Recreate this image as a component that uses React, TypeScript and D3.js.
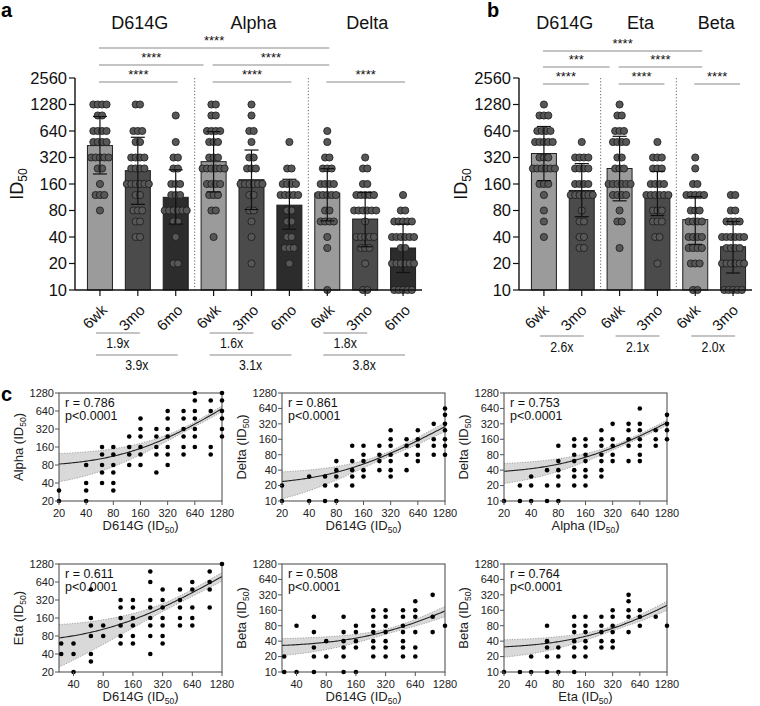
import React from "react";
import * as d3 from "d3";

const FONT = "'Liberation Sans', Arial, Helvetica, sans-serif";

// ---------- bar panels ----------
const barTicks = [10, 20, 40, 80, 160, 320, 640, 1280, 2560];
const timepoints = ["6wk", "3mo", "6mo"];
const tpColors: Record<string, string> = { "6wk": "#9b9b9b", "3mo": "#4b4b4b", "6mo": "#2c2c2c" };

const aVariants = ["D614G", "Alpha", "Delta"];
const aGeoMean = [437, 227, 113, 287, 179, 92, 126, 64, 30];
const aErrHigh = [934, 543, 232, 630, 389, 181, 239, 128, 56];
const aErrLow = [208, 94, 56, 130, 82, 49, 61, 31, 15.8];
const aDots: [number, number][][] = [
  [[1280, 4], [960, 2], [640, 4], [480, 4], [320, 5], [240, 2], [160, 1], [120, 3], [80, 1]],
  [[1280, 2], [640, 3], [480, 2], [320, 4], [240, 4], [160, 6], [120, 2], [80, 3], [60, 2], [40, 2]],
  [[960, 1], [480, 1], [320, 2], [240, 2], [160, 3], [120, 3], [80, 6], [60, 2], [40, 1], [20, 2]],
  [[1280, 2], [960, 2], [640, 4], [480, 3], [320, 3], [240, 6], [160, 4], [120, 3], [80, 2], [40, 1]],
  [[1280, 1], [960, 1], [640, 2], [480, 1], [320, 2], [240, 3], [160, 6], [120, 2], [80, 2], [60, 1], [40, 1], [20, 1]],
  [[480, 1], [240, 2], [160, 4], [120, 5], [80, 2], [60, 2], [40, 2], [30, 3], [20, 1]],
  [[640, 1], [480, 1], [320, 2], [240, 3], [160, 4], [120, 5], [80, 2], [60, 4], [40, 1], [30, 1], [10, 1]],
  [[320, 1], [240, 2], [160, 2], [120, 5], [80, 6], [60, 1], [40, 5], [30, 3], [20, 1], [10, 2]],
  [[120, 1], [80, 2], [60, 5], [40, 6], [30, 2], [20, 6], [10, 5]],
];
const aBrackets: [number, number, number, string][] = [
  [0, 6, 0, "****"], [0, 3, 1, "****"], [3, 6, 1, "****"],
  [0, 2, 2, "****"], [3, 5, 2, "****"], [6, 8, 2, "****"],
];
const aFolds: [number, number, number, string][] = [
  [0, 1, 0, "1.9x"], [0, 2, 1, "3.9x"], [3, 4, 0, "1.6x"], [3, 5, 1, "3.1x"], [6, 7, 0, "1.8x"], [6, 8, 1, "3.8x"],
];

const bVariants = ["D614G", "Eta", "Beta"];
const bGeoMean = [355, 135, 240, 128, 63, 31];
const bErrHigh = [720, 273, 557, 222, 115, 60];
const bErrLow = [175, 68, 103, 70, 33, 15.6];
const bDots: [number, number][][] = [
  [[1280, 1], [960, 3], [640, 4], [480, 5], [320, 3], [240, 6], [160, 3], [120, 1], [80, 1], [60, 1], [40, 1]],
  [[480, 1], [320, 4], [240, 4], [160, 4], [120, 6], [80, 1], [60, 2], [40, 2], [30, 2]],
  [[1280, 1], [960, 2], [640, 3], [480, 4], [320, 2], [240, 3], [160, 6], [120, 4], [80, 1], [60, 2], [30, 1]],
  [[480, 1], [320, 3], [240, 3], [160, 4], [120, 6], [80, 3], [60, 3], [40, 2], [20, 1]],
  [[320, 1], [240, 1], [160, 2], [120, 5], [80, 3], [60, 4], [40, 4], [30, 4], [20, 3], [10, 2]],
  [[120, 2], [80, 2], [60, 4], [40, 6], [30, 4], [20, 6], [10, 5]],
];
const bBrackets: [number, number, number, string][] = [
  [0, 4, 0, "****"], [0, 2, 1, "***"], [2, 4, 1, "****"],
  [0, 1, 2, "****"], [2, 3, 2, "****"], [4, 5, 2, "****"],
];
const bFolds: [number, number, number, string][] = [
  [0, 1, 0, "2.6x"], [2, 3, 0, "2.1x"], [4, 5, 0, "2.0x"],
];

// ---------- scatter panels ----------
const sc1Points = [
  [20, 30], [20, 20], [40, 80], [40, 40], [40, 30], [40, 20],
  [60, 160], [60, 120], [60, 80], [60, 60], [60, 40],
  [80, 160], [80, 120], [80, 80], [80, 60], [80, 40], [80, 30],
  [120, 240], [120, 160], [120, 120], [120, 80],
  [160, 480], [160, 320], [160, 240], [160, 160], [160, 120], [160, 80],
  [240, 320], [240, 240], [240, 160], [240, 120], [240, 60],
  [320, 640], [320, 480], [320, 320], [320, 240], [320, 160], [320, 120], [320, 80],
  [480, 640], [480, 480], [480, 320], [480, 240], [480, 160], [480, 120],
  [640, 1280], [640, 960], [640, 640], [640, 480], [640, 320], [640, 240], [640, 160],
  [960, 960], [960, 640], [960, 160], [960, 120],
  [1280, 1280], [1280, 960], [1280, 640], [1280, 480], [1280, 320], [1280, 240],
];
const sc2Points = [
  [20, 20], [20, 10], [40, 30], [40, 10], [60, 30], [60, 20], [60, 10],
  [80, 60], [80, 40], [80, 30], [80, 20], [80, 10],
  [120, 120], [120, 60], [120, 40], [120, 30], [120, 20],
  [160, 120], [160, 80], [160, 60], [160, 40], [160, 30],
  [240, 120], [240, 80], [240, 60], [240, 40],
  [320, 240], [320, 160], [320, 120], [320, 80], [320, 60], [320, 40], [320, 30],
  [480, 160], [480, 120], [480, 80], [480, 40],
  [640, 240], [640, 160], [640, 120], [640, 80], [640, 60],
  [960, 320], [960, 160], [960, 120], [960, 80],
  [1280, 640], [1280, 480], [1280, 320], [1280, 240], [1280, 160], [1280, 120], [1280, 80],
];
const sc3Points = [
  [20, 10], [30, 20], [30, 10], [40, 30], [40, 20], [40, 10], [60, 40], [60, 20], [60, 10],
  [80, 120], [80, 60], [80, 40], [80, 30], [80, 20], [80, 10],
  [120, 160], [120, 120], [120, 80], [120, 60], [120, 40], [120, 30], [120, 20],
  [160, 160], [160, 120], [160, 80], [160, 60], [160, 40], [160, 30], [160, 20],
  [240, 240], [240, 160], [240, 120], [240, 80], [240, 60], [240, 40], [240, 30],
  [320, 320], [320, 160], [320, 120], [320, 80], [320, 60],
  [480, 320], [480, 240], [480, 160], [480, 120], [480, 60],
  [640, 640], [640, 320], [640, 240], [640, 160], [640, 120], [640, 80], [640, 60],
  [960, 240], [960, 160], [960, 120],
  [1280, 480], [1280, 320], [1280, 240], [1280, 160],
];
const sc4Points = [
  [30, 60], [30, 40], [40, 60], [40, 40], [40, 20],
  [60, 480], [60, 160], [60, 120], [60, 80], [60, 40], [60, 30],
  [80, 120], [80, 80],
  [120, 320], [120, 240], [120, 160], [120, 120], [120, 80], [120, 60],
  [160, 320], [160, 240], [160, 160], [160, 120], [160, 80], [160, 60],
  [240, 960], [240, 640], [240, 320], [240, 240], [240, 160], [240, 120], [240, 80], [240, 40],
  [320, 480], [320, 320], [320, 240], [320, 160], [320, 120], [320, 80], [320, 60],
  [480, 480], [480, 320], [480, 240], [480, 160], [480, 120],
  [640, 640], [640, 480], [640, 240], [640, 160], [640, 120],
  [960, 960], [960, 640], [960, 480], [960, 240],
  [1280, 1280],
];
const sc5Points = [
  [30, 20], [30, 10], [40, 80], [40, 10],
  [60, 120], [60, 60], [60, 30], [60, 20], [60, 10],
  [80, 40], [80, 20],
  [120, 120], [120, 60], [120, 40], [120, 30], [120, 20], [120, 10],
  [160, 80], [160, 60], [160, 40], [160, 30], [160, 10],
  [240, 160], [240, 120], [240, 80], [240, 60], [240, 40], [240, 30], [240, 20],
  [320, 160], [320, 120], [320, 80], [320, 60], [320, 40], [320, 30], [320, 20],
  [480, 160], [480, 120], [480, 80], [480, 60], [480, 40], [480, 30], [480, 20],
  [640, 240], [640, 160], [640, 120], [640, 60], [640, 30], [640, 20],
  [960, 320], [960, 120], [960, 60],
  [1280, 80],
];
const sc6Points = [
  [20, 10], [30, 10], [40, 20], [40, 10],
  [60, 80], [60, 40], [60, 30], [60, 20], [60, 10],
  [80, 30], [80, 20], [80, 10],
  [120, 120], [120, 80], [120, 60], [120, 40], [120, 30], [120, 20], [120, 10],
  [160, 120], [160, 80], [160, 60], [160, 40], [160, 30], [160, 20],
  [240, 120], [240, 80], [240, 60], [240, 40], [240, 30],
  [320, 160], [320, 120], [320, 80], [320, 60], [320, 40], [320, 30],
  [480, 320], [480, 240], [480, 160], [480, 120], [480, 60],
  [640, 160], [640, 120], [640, 80],
  [960, 120],
  [1280, 80],
];
const scatterPoints = [sc1Points, sc2Points, sc3Points, sc4Points, sc5Points, sc6Points];
// linear fit y = a + b*x
const scatterFits = [[73.2, 0.49], [19.9, 0.2056], [33.2, 0.239], [57.8, 0.574], [30.2, 0.0975], [28.3, 0.134]];
// 95% band half-width (linear units) at left end, narrowest, right end
const scatterCI = [[41, 26, 80], [13, 8, 55], [16, 11, 40], [50, 36, 130], [12, 7, 35], [11.5, 7, 40]];
const scatterR = ["0.786", "0.861", "0.753", "0.611", "0.508", "0.764"];
const scatterXNames = ["D614G", "D614G", "Alpha", "D614G", "D614G", "Eta"];
const scatterYNames = ["Alpha", "Delta", "Delta", "Eta", "Beta", "Beta"];
const scatterXDomains = [[20, 1280], [20, 1280], [20, 1280], [28.5, 1280], [28.5, 1280], [20, 1280]];
const scatterYDomains = [[20, 1280], [10, 1280], [10, 1280], [20, 1280], [10, 1280], [10, 1280]];
const ticks10 = [10, 20, 40, 80, 160, 320, 640, 1280];
const ticks20 = [20, 40, 80, 160, 320, 640, 1280];
const ticks40 = [40, 80, 160, 320, 640, 1280];

// ---------- components ----------
type BarProps = {
  variants: string[]; tps: string[]; geo: number[]; hi: number[]; lo: number[];
  dots: [number, number][][]; brackets: [number, number, number, string][];
  folds: [number, number, number, string][]; axisX: number; rangeEnd: number;
  bracketY: number[]; foldY: number[]; foldTextY: number[]; labelDx: number;
  ext: number;
};

function BarPanel(p: BarProps) {
  const cats = p.variants.flatMap((v) => p.tps.map((t) => v + "|" + t));
  const x = d3.scaleBand().domain(cats).range([p.axisX + 6, p.rangeEnd]).paddingInner(0.34).paddingOuter(0.17);
  const y = d3.scaleLog().domain([10, 2560]).range([290, 78]);
  const cx = (i: number) => (x(cats[i]) as number) + x.bandwidth() / 2;
  const bw = x.bandwidth();
  const y0 = y(10);
  const nT = p.tps.length;
  return (
    <g>
      {p.variants.map((v, gi) => (
        <text key={v} x={(cx(gi * nT) + cx(gi * nT + nT - 1)) / 2 + 2} y={28.5} fontSize={18} textAnchor="middle" fill="#111">{v}</text>
      ))}
      {p.variants.slice(1).map((v, gi) => {
        const xs = (cx((gi + 1) * nT - 1) + cx((gi + 1) * nT)) / 2;
        return <line key={v} x1={xs} x2={xs} y1={y(2560)} y2={y0} stroke="#555" strokeWidth={0.9} strokeDasharray="1.2,2" />;
      })}
      {cats.map((c, i) => {
        const tp = p.tps[i % nT];
        const xc = cx(i);
        return (
          <g key={c}>
            <rect x={x(c)} y={y(p.geo[i])} width={bw} height={y0 - y(p.geo[i])} fill={tpColors[tp]} stroke="#1e1e1e" strokeWidth={1} />
            {p.dots[i].flatMap(([v, n]) =>
              d3.range(n).map((k) => (
                <circle key={v + "-" + k} cx={xc + (k - (n - 1) / 2) * 4.4} cy={y(v)} r={3.6} fill="#575757" stroke="#1a1a1a" strokeWidth={0.8} />
              ))
            )}
            <line x1={xc} x2={xc} y1={y(p.lo[i])} y2={y(p.hi[i])} stroke="#111" strokeWidth={1.2} />
            <line x1={xc - 7} x2={xc + 7} y1={y(p.hi[i])} y2={y(p.hi[i])} stroke="#111" strokeWidth={1.2} />
            <line x1={xc - 7} x2={xc + 7} y1={y(p.lo[i])} y2={y(p.lo[i])} stroke="#111" strokeWidth={1.2} />
            <line x1={xc} x2={xc} y1={y0} y2={y0 + 6} stroke="#111" strokeWidth={1.2} />
            <text transform={`translate(${xc + p.labelDx},311) rotate(-45)`} textAnchor="end" fontSize={15} fill="#111">{tp}</text>
          </g>
        );
      })}
      <line x1={p.axisX} x2={p.axisX} y1={y(2560)} y2={y0} stroke="#111" strokeWidth={1.4} />
      <line x1={p.axisX} x2={p.rangeEnd} y1={y0} y2={y0} stroke="#111" strokeWidth={1.4} />
      {barTicks.map((t) => (
        <g key={t}>
          <line x1={p.axisX - 6} x2={p.axisX} y1={y(t)} y2={y(t)} stroke="#111" strokeWidth={1.2} />
          <text x={p.axisX - 8} y={y(t)} dy="0.36em" textAnchor="end" fontSize={16.5} fill="#111">{t}</text>
        </g>
      ))}
      {p.brackets.map(([a, b, lvl, s], i) => {
        const trimmed = p.brackets.some(([a2, , l2], j) => j !== i && l2 === lvl && a2 === b);
        const x1 = cx(a) - 1;
        const x2 = trimmed ? cx(b) - 10 : cx(b) + p.ext;
        return (
          <g key={i}>
            <line x1={x1} x2={x2} y1={p.bracketY[lvl]} y2={p.bracketY[lvl]} stroke="#8a8a8a" strokeWidth={1.1} />
            <text x={(x1 + x2) / 2} y={p.bracketY[lvl] - 3} textAnchor="middle" fontSize={13} fill="#111">{s}</text>
          </g>
        );
      })}
      {p.folds.map(([a, b, lvl, s], i) => {
        const x1 = cx(a) - 4;
        const x2 = cx(b) + 2;
        return (
          <g key={i}>
            <line x1={x1} x2={x2} y1={p.foldY[lvl]} y2={p.foldY[lvl]} stroke="#8a8a8a" strokeWidth={1.1} />
            <text transform={`translate(${(x1 + x2) / 2},${p.foldTextY[lvl]}) scale(0.82,1)`} textAnchor="middle" fontSize={15} fill="#111">{s}</text>
          </g>
        );
      })}
    </g>
  );
}

type ScProps = { idx: number; left: number; top: number };
function Scatter({ idx, left, top }: ScProps) {
  const W = 163, H = 108;
  const xd = scatterXDomains[idx], yd = scatterYDomains[idx];
  const x = d3.scaleLog().domain(xd).range([left, left + W]);
  const y = d3.scaleLog().domain(yd).range([top + H, top]);
  const pts = scatterPoints[idx];
  const [a, b] = scatterFits[idx];
  const [hL, hMin, hR] = scatterCI[idx];
  const rho = Math.sqrt((hR * hR - hMin * hMin) / (hL * hL - hMin * hMin));
  const xc = (xd[1] + rho * xd[0]) / (1 + rho);
  const B = (hL * hL - hMin * hMin) / ((xc - xd[0]) ** 2);
  const half = (v: number) => Math.sqrt(hMin * hMin + B * (v - xc) ** 2);
  const fit = (v: number) => a + b * v;
  const xs = d3.range(0, 121).map((i) => xd[0] * Math.pow(xd[1] / xd[0], i / 120));
  const yClamp = (v: number) => y(Math.max(v, yd[0] / 4));
  const upper = d3.line<number>().x((v) => x(v)).y((v) => yClamp(fit(v) + half(v)));
  const lower = d3.line<number>().x((v) => x(v)).y((v) => yClamp(fit(v) - half(v)));
  const area = d3.area<number>().x((v) => x(v)).y0((v) => yClamp(fit(v) - half(v))).y1((v) => yClamp(fit(v) + half(v)));
  const mid = d3.line<number>().x((v) => x(v)).y((v) => yClamp(fit(v)));
  const clipId = "clip" + idx;
  const xTicks = xd[0] < 25 ? ticks20 : ticks40;
  const yTicks = yd[0] < 15 ? ticks10 : ticks20;
  return (
    <g>
      <defs>
        <clipPath id={clipId}><rect x={left} y={top} width={W} height={H} /></clipPath>
      </defs>
      <g clipPath={`url(#${clipId})`}>
        <path d={area(xs) || ""} fill="#d9d9d9" />
        <path d={upper(xs) || ""} fill="none" stroke="#8c8c8c" strokeWidth={0.8} strokeDasharray="1.2,1.4" />
        <path d={lower(xs) || ""} fill="none" stroke="#8c8c8c" strokeWidth={0.8} strokeDasharray="1.2,1.4" />
        <path d={mid(xs) || ""} fill="none" stroke="#222" strokeWidth={1.1} />
      </g>
      <rect x={left} y={top} width={W} height={H} fill="none" stroke="#555" strokeWidth={1.1} />
      {pts.map(([px, py], i) => (
        <circle key={i} cx={x(px)} cy={y(py)} r={2.3} fill="#000" />
      ))}
      {yTicks.map((t) => (
        <g key={"y" + t}>
          <line x1={left - 4} x2={left} y1={y(t)} y2={y(t)} stroke="#555" strokeWidth={1} />
          <text x={left - 5} y={y(t)} dy="0.35em" textAnchor="end" fontSize={11} fill="#222">{t}</text>
        </g>
      ))}
      {xTicks.map((t) => (
        <g key={"x" + t}>
          <line x1={x(t)} x2={x(t)} y1={top + H} y2={top + H + 4} stroke="#555" strokeWidth={1} />
          <text x={x(t)} y={top + H + 16} textAnchor="middle" fontSize={11} fill="#222">{t}</text>
        </g>
      ))}
      <text x={left + 6} y={top + 14} fontSize={12.5} fill="#111">{"r = " + scatterR[idx]}</text>
      <text x={left + 6} y={top + 27} fontSize={12.5} fill="#111">p&lt;0.0001</text>
      <text x={left + W / 2} y={top + H + 29} textAnchor="middle" fontSize={13} fill="#222">
        {scatterXNames[idx] + " (ID"}<tspan dy={2.5} fontSize={8.5}>50</tspan><tspan dy={-2.5}>)</tspan>
      </text>
      <text transform={`translate(${left - 36},${top + H / 2}) rotate(-90)`} textAnchor="middle" fontSize={13} fill="#222">
        {scatterYNames[idx] + " (ID"}<tspan dy={2.5} fontSize={8.5}>50</tspan><tspan dy={-2.5}>)</tspan>
      </text>
    </g>
  );
}

export default function App() {
  const lefts = [59, 282, 504];
  const tops = [393, 564];
  return (
    <svg width={760} height={706} style={{ display: "block", position: "absolute", left: 0, top: 0, background: "#fff" }} fontFamily={FONT}>
      <rect width={760} height={706} fill="#fff" />
      <text x={1} y={17} fontSize={20} fontWeight="bold" fill="#000">a</text>
      <text x={487} y={17} fontSize={20} fontWeight="bold" fill="#000">b</text>
      <text x={1} y={401} fontSize={20} fontWeight="bold" fill="#000">c</text>
      <text transform="translate(23,184) rotate(-90)" textAnchor="middle" fontSize={18} fill="#111">
        ID<tspan dy={4} fontSize={12}>50</tspan>
      </text>
      <text transform="translate(467,184) rotate(-90)" textAnchor="middle" fontSize={18} fill="#111">
        ID<tspan dy={4} fontSize={12}>50</tspan>
      </text>
      <BarPanel variants={aVariants} tps={timepoints} geo={aGeoMean} hi={aErrHigh} lo={aErrLow} dots={aDots}
        brackets={aBrackets} folds={aFolds} axisX={75} rangeEnd={422} bracketY={[48, 65, 82]}
        foldY={[333, 355]} foldTextY={[348, 370]} labelDx={8} ext={2} />
      <BarPanel variants={bVariants} tps={timepoints.slice(0, 2)} geo={bGeoMean} hi={bErrHigh} lo={bErrLow} dots={bDots}
        brackets={bBrackets} folds={bFolds} axisX={519} rangeEnd={752} bracketY={[51, 67, 84]}
        foldY={[336]} foldTextY={[352]} labelDx={6} ext={7} />
      {[0, 1, 2, 3, 4, 5].map((i) => (
        <Scatter key={i} idx={i} left={lefts[i % 3]} top={tops[Math.floor(i / 3)]} />
      ))}
    </svg>
  );
}
